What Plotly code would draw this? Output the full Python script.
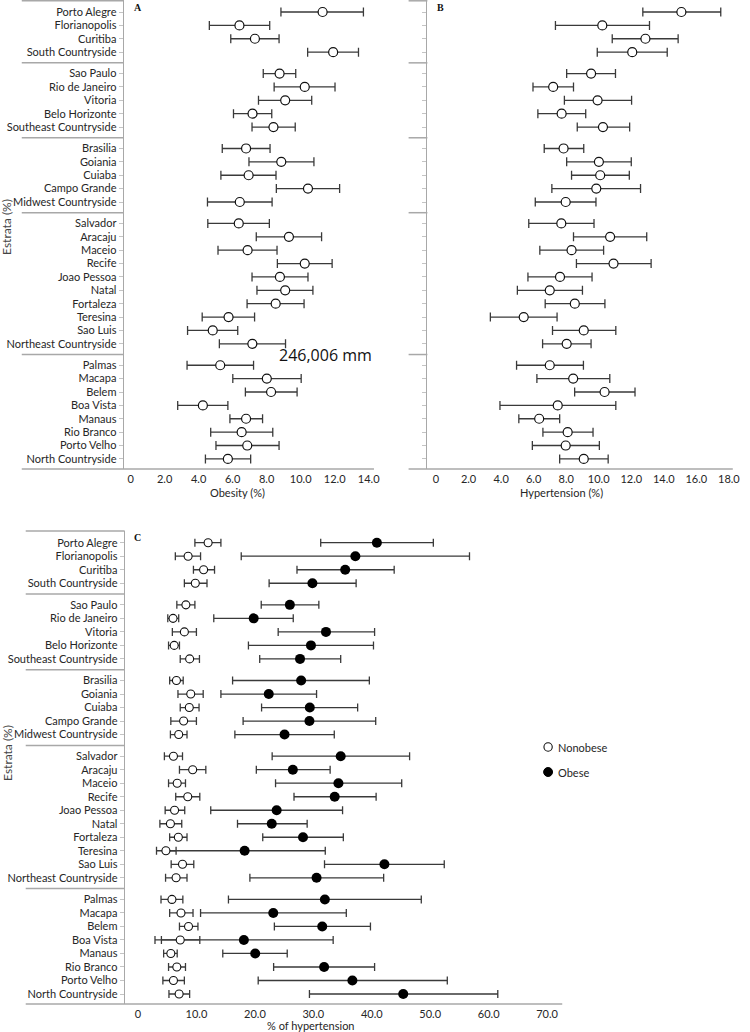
import plotly.graph_objects as go

W, H = 750, 1032

names = ["Porto Alegre", "Florianopolis", "Curitiba", "South Countryside",
         "Sao Paulo", "Rio de Janeiro", "Vitoria", "Belo Horizonte", "Southeast Countryside",
         "Brasilia", "Goiania", "Cuiaba", "Campo Grande", "Midwest Countryside",
         "Salvador", "Aracaju", "Maceio", "Recife", "Joao Pessoa", "Natal", "Fortaleza",
         "Teresina", "Sao Luis", "Northeast Countryside",
         "Palmas", "Macapa", "Belem", "Boa Vista", "Manaus", "Rio Branco", "Porto Velho",
         "North Countryside"]
group_sizes = [4, 5, 5, 10, 8]

# Panel A: obesity (%)
obesity = [11.29, 6.40, 7.31, 11.91, 8.76, 10.24, 9.09, 7.17, 8.40, 6.79, 8.86, 6.94, 10.43, 6.42,
           6.36, 9.31, 6.88, 10.24, 8.78, 9.09, 8.53, 5.76, 4.83, 7.16, 5.27, 8.01, 8.26, 4.25, 6.79, 6.53, 6.86, 5.72]
obesity_lo = [8.84, 4.63, 5.89, 10.41, 7.80, 8.44, 7.52, 6.05, 7.14, 5.39, 6.96, 5.31, 8.57, 4.52,
              4.54, 7.39, 5.14, 8.63, 7.14, 7.43, 6.85, 4.21, 3.35, 5.22, 3.32, 6.01, 6.75, 2.77, 5.84, 4.71, 5.02, 4.40]
obesity_hi = [13.69, 8.18, 8.73, 13.40, 9.71, 12.02, 10.65, 8.30, 9.68, 8.20, 10.78, 8.55, 12.29, 8.32,
              8.16, 11.23, 8.61, 11.85, 10.43, 10.72, 10.20, 7.29, 6.30, 9.11, 7.23, 10.03, 9.79, 5.72, 7.76, 8.36, 8.73, 7.06]

# Panel B: hypertension (%)
hyp = [15.08, 10.22, 12.87, 12.06, 9.53, 7.20, 9.93, 7.72, 10.26, 7.84, 10.01, 10.09, 9.85, 7.97,
       7.70, 10.70, 8.33, 10.91, 7.62, 6.99, 8.53, 5.39, 9.08, 8.03, 6.99, 8.43, 10.36, 7.48, 6.34, 8.09, 7.97, 9.08]
hyp_lo = [12.71, 7.34, 10.83, 9.91, 8.03, 5.96, 7.89, 6.26, 8.68, 6.65, 8.03, 8.33, 7.12, 6.10,
          5.70, 8.45, 6.38, 8.63, 5.65, 5.00, 6.71, 3.34, 7.16, 6.55, 4.95, 6.20, 8.52, 3.93, 5.09, 6.57, 5.92, 7.60]
hyp_hi = [17.50, 13.12, 14.88, 14.21, 11.03, 8.45, 12.02, 9.20, 11.90, 9.08, 12.00, 11.88, 12.57, 9.83,
          9.71, 12.95, 10.30, 13.22, 9.59, 9.00, 10.38, 7.44, 11.05, 9.53, 9.06, 10.68, 12.23, 11.05, 7.60, 9.65, 10.04, 10.58]

# Panel C: % of hypertension, nonobese / obese
nonobese = [11.99, 8.57, 11.22, 9.80, 8.19, 5.99, 7.93, 6.19, 8.83, 6.57, 9.02, 8.77, 7.80, 6.96,
            6.06, 9.35, 6.70, 8.51, 6.25, 5.54, 6.90, 4.77, 7.61, 6.51, 5.80, 7.35, 8.64, 7.22, 5.61, 6.64, 6.06, 7.03]
nonobese_lo = [9.73, 6.38, 9.48, 7.93, 6.64, 5.09, 5.87, 5.22, 7.22, 5.41, 6.83, 7.22, 5.61, 5.54,
               4.51, 7.09, 5.22, 6.45, 4.64, 3.74, 5.41, 3.16, 5.67, 4.71, 3.93, 5.41, 7.09, 4.00, 4.38, 5.22, 4.25, 5.29]
nonobese_hi = [14.18, 10.70, 13.09, 11.80, 9.73, 6.96, 9.99, 7.09, 10.51, 7.73, 11.15, 10.44, 9.99, 8.38,
               7.61, 11.60, 8.12, 10.57, 7.99, 7.48, 8.38, 6.51, 9.54, 8.38, 7.67, 9.41, 10.25, 10.57, 6.70, 8.12, 7.93, 8.83]
obese = [40.87, 37.19, 35.45, 29.84, 25.98, 19.79, 32.16, 29.59, 27.72, 27.91, 22.37, 29.39, 29.33, 25.07,
         34.68, 26.49, 34.29, 33.65, 23.72, 22.88, 28.23, 18.24, 42.16, 30.55, 31.97, 23.14, 31.52, 18.11, 20.05, 31.84, 36.68, 45.38]
obese_lo = [31.26, 17.66, 27.20, 22.43, 21.08, 12.96, 23.98, 18.89, 20.82, 16.18, 14.18, 21.14, 17.98, 16.57,
            22.95, 20.24, 23.53, 26.69, 12.44, 17.02, 21.34, 4.60, 31.91, 19.14, 15.47, 10.70, 23.33, 2.90, 14.50, 23.20, 20.56, 29.33]
obese_hi = [50.53, 56.72, 43.83, 37.32, 30.94, 26.56, 40.48, 40.29, 34.68, 39.58, 30.55, 37.58, 40.67, 33.58,
            46.47, 32.87, 45.12, 40.74, 35.00, 28.94, 35.13, 32.04, 52.40, 42.03, 48.47, 35.64, 39.77, 33.39, 25.53, 40.48, 52.92, 61.56]

ticks_ab = [0, 2, 4, 6, 8, 10, 12, 14, 16, 18]
ticks_c = [0, 10, 20, 30, 40, 50, 60, 70]

# ---- row positions (groups separated by a small gap) ----
GAP = 0.6
pos = []
for g, n in enumerate(group_sizes):
    for k in range(n):
        pos.append(len(pos) + g * GAP)
starts = [sum(group_sizes[:g]) for g in range(1, len(group_sizes))]
seps = [(pos[s - 1] + pos[s]) / 2 for s in starts]

FONT = "Lato"
TXT = "#262626"
LINE = "#a8a8a8"
BAR = "#3a3a3a"


def px(x):
    return x / W


def py(y):
    return 1 - y / H


def err(v, lo, hi, width=4.5):
    return dict(type="data", symmetric=False,
                array=[h - p for p, h in zip(v, hi)],
                arrayminus=[p - l for p, l in zip(v, lo)],
                color=BAR, thickness=1.3, width=width)


fig = go.Figure()

fig.add_trace(go.Scatter(x=obesity, y=pos, mode="markers", xaxis="x", yaxis="y",
                         error_x=err(obesity, obesity_lo, obesity_hi),
                         marker=dict(symbol="circle", size=9, color="white",
                                     line=dict(color="#111", width=1.2)),
                         showlegend=False))
fig.add_trace(go.Scatter(x=hyp, y=pos, mode="markers", xaxis="x2", yaxis="y2",
                         error_x=err(hyp, hyp_lo, hyp_hi),
                         marker=dict(symbol="circle", size=9, color="white",
                                     line=dict(color="#111", width=1.2)),
                         showlegend=False))
fig.add_trace(go.Scatter(x=obese, y=pos, mode="markers", xaxis="x3", yaxis="y3",
                         error_x=err(obese, obese_lo, obese_hi, 4), name="Obese",
                         marker=dict(symbol="circle", size=10, color="black"),
                         showlegend=False))
fig.add_trace(go.Scatter(x=nonobese, y=pos, mode="markers", xaxis="x3", yaxis="y3",
                         error_x=err(nonobese, nonobese_lo, nonobese_hi, 4), name="Nonobese",
                         marker=dict(symbol="circle", size=8, color="white",
                                     line=dict(color="#111", width=1.1)),
                         showlegend=False))

# ---- axes ----
yr_ab = [34.155, -0.897]
yr_c = [34.14, -0.866]
dom_ab = [py(469), py(0)]
dom_c = [py(1004), py(531)]

xcommon = dict(showgrid=False, zeroline=False, showline=False, ticks="",
               tickfont=dict(family=FONT, size=11, color=TXT))
ycommon = dict(showgrid=False, zeroline=False, showline=True, linecolor=LINE, linewidth=1,
               ticks="outside", ticklen=4, tickcolor="#c4c4c4", tickvals=pos,
               tickfont=dict(family=FONT, size=11, color=TXT))

fig.update_layout(
    xaxis=dict(domain=[px(125), px(378)], range=[-0.407, 14.31], anchor="free", position=py(471),
               tickvals=ticks_ab[:8], ticktext=["0"] + [f"{t:.1f}" for t in ticks_ab[1:8]], **xcommon),
    yaxis=dict(domain=dom_ab, range=yr_ab, anchor="x", ticktext=names, **ycommon),
    xaxis2=dict(domain=[px(432), px(740.7)], range=[-0.53, 18.24], anchor="free", position=py(471),
                tickvals=ticks_ab, ticktext=["0"] + [f"{t:.1f}" for t in ticks_ab[1:]], **xcommon),
    yaxis2=dict(domain=dom_ab, range=yr_ab, anchor="x2", showticklabels=False, **ycommon),
    xaxis3=dict(domain=[px(126), px(568.3)], range=[-2.29, 72.59], anchor="free", position=py(1006),
                tickvals=ticks_c, ticktext=["0"] + [f"{t:.1f}" for t in ticks_c[1:]], **xcommon),
    yaxis3=dict(domain=dom_c, range=yr_c, anchor="x3", ticktext=names, **ycommon),
)

# ---- separator lines and extended axis lines ----
shapes = []
line_style = dict(color=LINE, width=1.5)
for yref, x0, x1 in [("y", 22, 125), ("y2", 413, 432), ("y3", 26, 126)]:
    for s in seps:
        shapes.append(dict(type="line", xref="paper", yref=yref, x0=px(x0), x1=px(x1),
                           y0=s, y1=s, line=line_style))
for x0, x1, y in [(22, 125, 0.8), (413, 432, 0.8), (26, 126, 531)]:
    shapes.append(dict(type="line", xref="paper", yref="paper", x0=px(x0), x1=px(x1),
                       y0=py(y), y1=py(y), line=line_style))
for x0, x1, y in [(22, 378, 469), (413, 740.7, 469), (26, 568.3, 1004)]:
    shapes.append(dict(type="line", xref="paper", yref="paper", x0=px(x0), x1=px(x1),
                       y0=py(y), y1=py(y), line=line_style))

# legend markers
shapes.append(dict(type="circle", xref="paper", yref="paper",
                   x0=px(549.8), x1=px(558.2), y0=py(751.2), y1=py(742.8),
                   line=dict(color="#111", width=1.1), fillcolor="white"))
shapes.append(dict(type="circle", xref="paper", yref="paper",
                   x0=px(549.5), x1=px(558.5), y0=py(776.5), y1=py(767.5),
                   line=dict(color="black", width=1), fillcolor="black"))

annotations = []


def ann(text, x, y, size=11, color=TXT, family=FONT, angle=0, xanchor="center", bold=False):
    annotations.append(dict(text=f"<b>{text}</b>" if bold else text, x=px(x), y=py(y),
                            xref="paper", yref="paper", showarrow=False, textangle=angle,
                            xanchor=xanchor, yanchor="middle",
                            font=dict(family=family, size=size, color=color)))


ann("A", 139, 7, size=10, color="#111", family="Liberation Serif", bold=True)
ann("B", 445, 7, size=10, color="#111", family="Liberation Serif", bold=True)
ann("C", 139, 537, size=10, color="#111", family="Liberation Serif", bold=True)
ann("Obesity (%)", 240, 493)
ann("Hypertension (%)", 567.5, 493)
ann("% of hypertension", 314, 1025)
ann("Estrata (%)", 7, 227, size=12, color="#444", angle=-90)
ann("Estrata (%)", 7, 753, size=12, color="#444", angle=-90)
ann("Nonobese", 562, 747, xanchor="left")
ann("Obese", 562, 772, xanchor="left")
ann("246,006 mm", 329, 355, size=16, color="#111", family="Open Sans")

fig.update_layout(width=W, height=H, autosize=False,
                  margin=dict(l=0, r=0, t=0, b=0),
                  paper_bgcolor="white", plot_bgcolor="white",
                  shapes=shapes, annotations=annotations,
                  font=dict(family=FONT, size=11, color=TXT))

fig.write_html("out.html", config={"displayModeBar": False},
               post_script="document.body.style.margin='0';document.body.style.overflow='hidden';")
